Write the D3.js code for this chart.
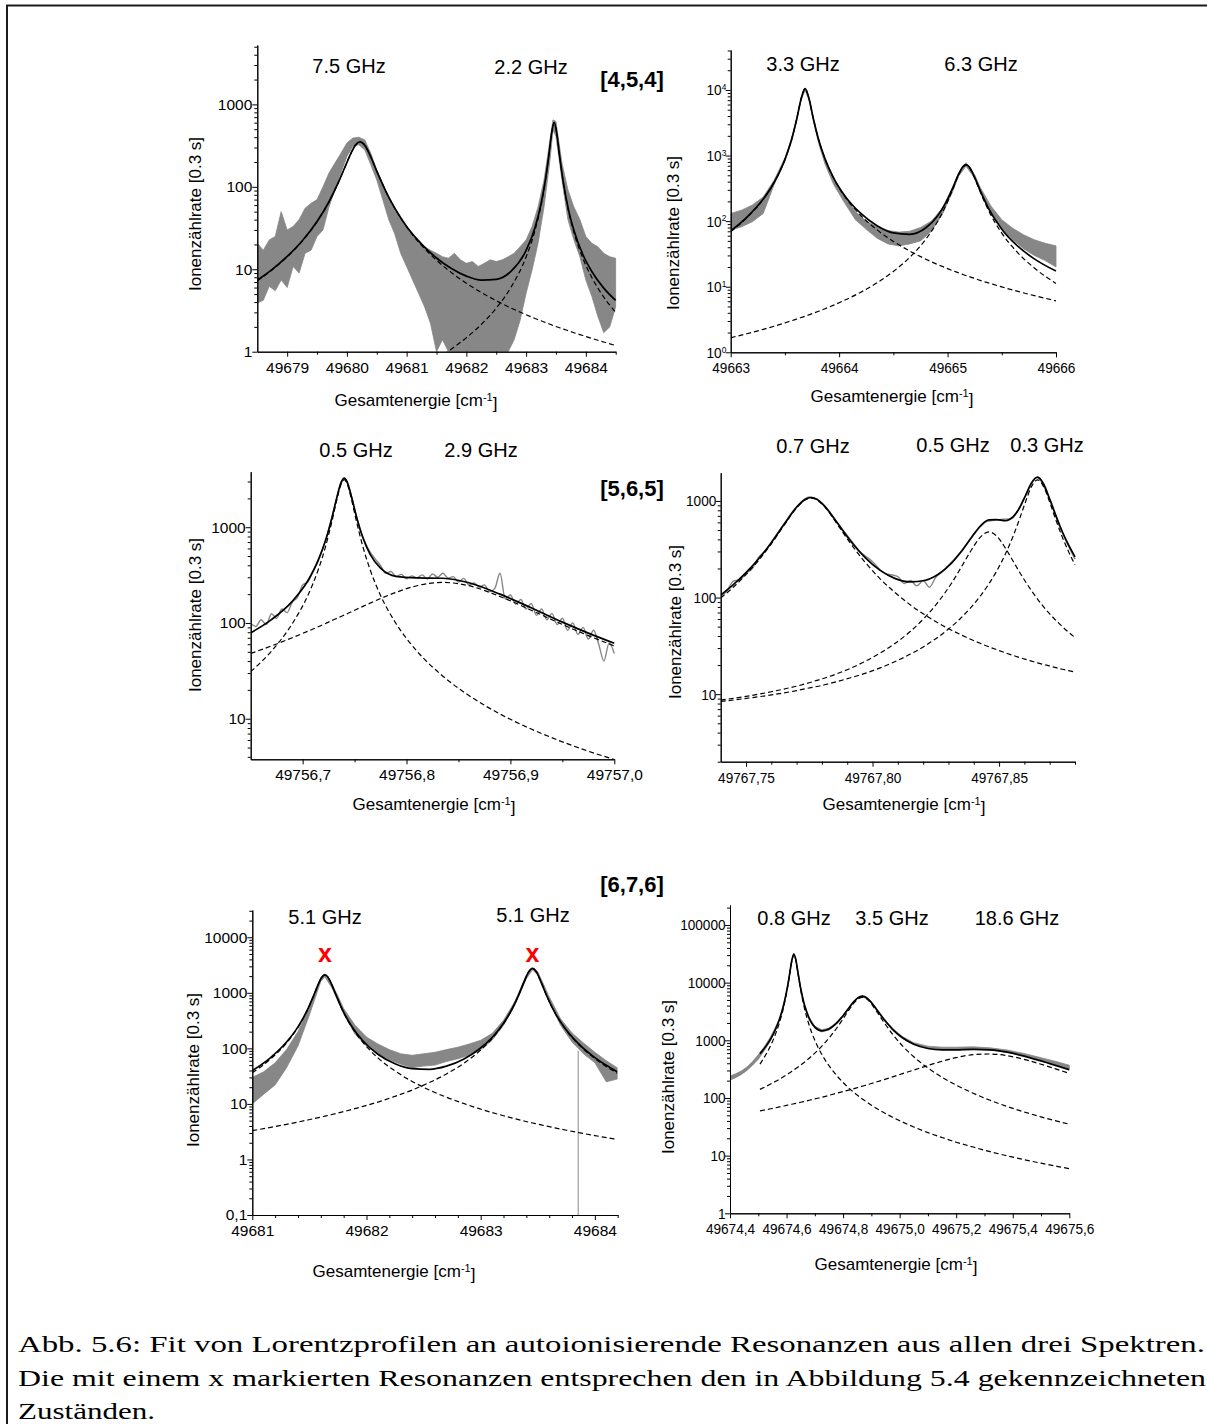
<!DOCTYPE html>
<html>
<head>
<meta charset="utf-8">
<script src="https://cdn.jsdelivr.net/npm/d3@7"></script>
<style>
  body { margin: 0; background: #fff; }
  svg { display: block; }
</style>
</head>
<body>
<svg id="fig" width="1207" height="1424"></svg>
<script>
// ===================== data =====================
// [4,5,4] spectrum, left panel
const p1XRange = [49678.5, 49684.5];
const p1YRange = [1, 5250];
const p1XTicks = [49679, 49680, 49681, 49682, 49683, 49684];
const p1XMinor = [49679.5, 49680.5, 49681.5, 49682.5, 49683.5, 49684.5];
const p1YTicks = [1, 10, 100, 1000];
const p1FitX = [49678.5, 49678.75, 49679, 49679.25, 49679.5, 49679.7, 49679.85, 49679.97, 49680.07, 49680.15, 49680.22, 49680.3, 49680.4, 49680.5, 49680.65, 49680.8, 49681, 49681.25, 49681.5, 49681.75, 49682, 49682.25, 49682.5, 49682.75, 49683, 49683.15, 49683.25, 49683.32, 49683.38, 49683.43, 49683.47, 49683.51, 49683.56, 49683.62, 49683.7, 49683.8, 49683.95, 49684.1, 49684.3, 49684.5];
const p1PeakA = [7.24, 9.84, 14.1, 21.8, 37.7, 65.7, 110, 175, 257, 325, 350, 318, 231, 155, 88.4, 54.9, 32.6, 19.5, 12.9, 9.10, 6.77, 5.23, 4.16, 3.38, 2.81, 2.53, 2.37, 2.26, 2.18, 2.11, 2.06, 2.01, 1.95, 1.88, 1.80, 1.70, 1.57, 1.45, 1.31, 1.19];
const p1PeakB = [0.129, 0.143, 0.160, 0.180, 0.203, 0.225, 0.244, 0.261, 0.277, 0.290, 0.303, 0.318, 0.339, 0.362, 0.402, 0.448, 0.524, 0.65, 0.82, 1.08, 1.48, 2.14, 3.38, 6.10, 14.1, 29.7, 59.5, 115, 238, 462, 600, 462, 238, 115, 54.9, 28.0, 13.6, 7.95, 4.60, 3.00];
const p1Fit = [7.37, 9.98, 14.3, 22.0, 37.9, 65.9, 110, 175, 257, 325, 350, 318, 231, 155, 88.8, 55.3, 33.1, 20.2, 13.7, 10.2, 8.25, 7.37, 7.54, 9.48, 16.9, 32.2, 61.9, 117, 240, 464, 602, 464, 240, 117, 56.7, 29.7, 15.1, 9.40, 5.91, 4.19];
const p1DataX = [49678.5, 49678.6, 49678.7, 49678.8, 49678.9, 49679, 49679.1, 49679.2, 49679.3, 49679.4, 49679.5, 49679.6, 49679.7, 49679.8, 49679.9, 49680, 49680.1, 49680.2, 49680.3, 49680.4, 49680.5, 49680.6, 49680.7, 49680.8, 49680.9, 49681, 49681.1, 49681.2, 49681.3, 49681.4, 49681.5, 49681.6, 49681.7, 49681.8, 49681.9, 49682, 49682.1, 49682.2, 49682.3, 49682.4, 49682.5, 49682.6, 49682.7, 49682.8, 49682.9, 49683, 49683.1, 49683.2, 49683.3, 49683.4, 49683.45, 49683.5, 49683.6, 49683.7, 49683.8, 49683.9, 49684, 49684.1, 49684.2, 49684.3, 49684.4, 49684.5];
const p1DataLo = [3.9, 4.2, 6.2, 5.5, 7.4, 6.0, 10.8, 9.0, 15.6, 17, 25, 30, 57, 92, 147, 233, 310, 324, 280, 185, 121, 70, 40, 27, 15.6, 10.8, 7.4, 5.1, 3.5, 2.2, 1, 1.4, 1, 1, 1, 1, 1, 1, 1, 1, 1, 1, 1, 1.4, 2.4, 5.1, 9.8, 20.7, 57, 211, 490, 410, 121, 40, 22.7, 14.2, 7.4, 4.7, 2.7, 1.7, 2.0, 3.5];
const p1DataHi = [20.7, 17, 22.7, 25, 50, 30, 33, 40, 55, 63, 70, 100, 147, 194, 255, 340, 390, 400, 370, 255, 160, 110, 73, 52, 40, 33, 27, 22.7, 18.8, 17, 15.6, 14.2, 13.6, 15.6, 13, 11.8, 12.4, 10.8, 11.8, 13, 12.4, 13, 14.2, 15.6, 18.8, 22.7, 33, 57, 121, 370, 650, 620, 194, 92, 57, 40, 25, 20.7, 18.8, 15.6, 14.2, 13.6];

// [4,5,4] spectrum, right panel
const p2XRange = [49663, 49666];
const p2YRange = [1, 40700];
const p2XTicks = [49663, 49664, 49665, 49666];
const p2XMinor = [49663.5, 49664.5, 49665.5];
const p2YTicks = [1, 10, 100, 1000, 10000];
const p2FitX = [49663, 49663.15, 49663.3, 49663.4, 49663.5, 49663.56, 49663.61, 49663.65, 49663.686, 49663.72, 49663.76, 49663.81, 49663.87, 49663.95, 49664.05, 49664.2, 49664.35, 49664.5, 49664.65, 49664.8, 49664.9, 49664.98, 49665.05, 49665.1, 49665.14, 49665.17, 49665.2, 49665.25, 49665.3, 49665.38, 49665.5, 49665.65, 49665.8, 49666];
const p2PeakA = [69.0, 113, 215, 385, 867, 1721, 3678, 7415, 10500, 7658, 3806, 1768, 885, 449, 241, 122, 73.6, 49.1, 35.1, 26.3, 22.1, 19.5, 17.5, 16.3, 15.4, 14.8, 14.3, 13.4, 12.5, 11.4, 9.92, 8.47, 7.31, 6.10];
const p2PeakB = [1.67, 1.92, 2.24, 2.50, 2.81, 3.02, 3.22, 3.39, 3.55, 3.72, 3.93, 4.22, 4.62, 5.24, 6.21, 8.26, 11.5, 17.1, 27.9, 53.1, 93.7, 167, 309, 494, 659, 713, 659, 451, 282, 143, 65.5, 32.6, 19.3, 11.2];
const p2Fit = [70.7, 115, 217, 388, 870, 1724, 3681, 7418, 10504, 7662, 3810, 1772, 889, 454, 247, 131, 85.1, 66.2, 63.0, 79.4, 116, 186, 327, 510, 674, 728, 673, 464, 294, 154, 75.4, 41.1, 26.6, 17.3];
const p2DataX = [49663, 49663.1, 49663.2, 49663.3, 49663.4, 49663.5, 49663.56, 49663.61, 49663.65, 49663.686, 49663.72, 49663.76, 49663.81, 49663.87, 49663.95, 49664.05, 49664.15, 49664.25, 49664.35, 49664.45, 49664.55, 49664.65, 49664.75, 49664.85, 49664.95, 49665.05, 49665.1, 49665.17, 49665.25, 49665.3, 49665.4, 49665.5, 49665.6, 49665.7, 49665.8, 49665.9, 49666];
const p2DataLo = [73, 82, 98, 131, 360, 820, 1600, 3450, 7000, 9900, 7100, 3500, 1550, 740, 360, 190, 105, 75, 55, 45, 42, 45, 50, 70, 125, 290, 480, 690, 450, 285, 130, 75, 52, 38, 30, 25, 20];
const p2DataHi = [131, 147, 176, 234, 420, 920, 1780, 3750, 7500, 10400, 7600, 3750, 1720, 850, 430, 235, 140, 100, 82, 72, 68, 70, 80, 100, 155, 340, 540, 780, 510, 330, 170, 105, 78, 62, 52, 46, 42];

// [5,6,5] spectrum, left panel
const p3XRange = [49756.65, 49757.0];
const p3YRange = [3.77, 3800];
const p3XTicks = [49756.7, 49756.8, 49756.9, 49757.0];
const p3XMinor = [49756.75, 49756.85, 49756.95];
const p3YTicks = [10, 100, 1000];
const p3FitX = [49756.65, 49756.67, 49756.69, 49756.705, 49756.715, 49756.722, 49756.728, 49756.733, 49756.737, 49756.74, 49756.743, 49756.747, 49756.752, 49756.758, 49756.765, 49756.775, 49756.79, 49756.81, 49756.835, 49756.86, 49756.89, 49756.92, 49756.95, 49756.975, 49757.0];
const p3PeakA = [31.0, 50.9, 98.2, 194, 359, 626, 1127, 1950, 2817, 3130, 2817, 1950, 1127, 626, 359, 194, 98.2, 50.9, 27.8, 17.5, 11.2, 7.80, 5.74, 4.58, 3.75];
const p3PeakB = [48.0, 57.6, 70.1, 82.0, 91.3, 98.6, 106, 112, 117, 121, 125, 131, 139, 149, 161, 180, 209, 245, 265, 245, 189, 136, 96.5, 73.8, 57.6];
const p3Fit = [79.0, 108.5, 168.3, 276, 450, 725, 1233, 2062, 2934, 3251, 2942, 2081, 1266, 775, 520, 374, 307, 296, 293, 263, 200, 144, 102, 78.4, 61.4];
const p3DataX = [49756.650, 49756.655, 49756.660, 49756.665, 49756.670, 49756.675, 49756.680, 49756.685, 49756.690, 49756.695, 49756.700, 49756.705, 49756.710, 49756.715, 49756.720, 49756.725, 49756.730, 49756.735, 49756.740, 49756.745, 49756.750, 49756.755, 49756.760, 49756.765, 49756.770, 49756.775, 49756.780, 49756.785, 49756.790, 49756.795, 49756.800, 49756.805, 49756.810, 49756.815, 49756.820, 49756.825, 49756.830, 49756.835, 49756.840, 49756.845, 49756.850, 49756.855, 49756.860, 49756.865, 49756.870, 49756.875, 49756.880, 49756.885, 49756.890, 49756.895, 49756.900, 49756.905, 49756.910, 49756.915, 49756.920, 49756.925, 49756.930, 49756.935, 49756.940, 49756.945, 49756.950, 49756.955, 49756.960, 49756.965, 49756.970, 49756.975, 49756.980, 49756.985, 49756.990, 49756.995, 49757.000];
const p3Data = [98, 92, 108, 96, 125, 112, 140, 128, 165, 185, 250, 268, 350, 460, 625, 930, 1500, 2480, 3180, 2520, 1550, 990, 700, 550, 465, 398, 330, 345, 305, 322, 290, 310, 296, 318, 288, 325, 300, 330, 295, 305, 268, 292, 250, 262, 236, 250, 212, 230, 330, 178, 196, 158, 176, 140, 160, 120, 140, 108, 126, 96, 112, 84, 100, 76, 90, 68, 84, 60, 40, 62, 48];

// [5,6,5] spectrum, right panel
const p4XRange = [49767.74, 49767.88];
const p4YRange = [2, 1960];
const p4XTicks = [49767.75, 49767.80, 49767.85];
const p4XMinor = [49767.76, 49767.77, 49767.78, 49767.79, 49767.81, 49767.82, 49767.83, 49767.84, 49767.86, 49767.87, 49767.88];
const p4YTicks = [10, 100, 1000];
const p4FitX = [49767.740, 49767.745, 49767.750, 49767.755, 49767.760, 49767.765, 49767.770, 49767.7735, 49767.7757, 49767.778, 49767.7815, 49767.786, 49767.791, 49767.797, 49767.803, 49767.809, 49767.815, 49767.8205, 49767.826, 49767.831, 49767.835, 49767.839, 49767.8425, 49767.846, 49767.849, 49767.8525, 49767.8555, 49767.858, 49767.8605, 49767.8628, 49767.8652, 49767.8676, 49767.870, 49767.8725, 49767.875, 49767.8775, 49767.880];
const p4PeakA = [98.9, 128, 173, 243, 360, 557, 848, 1030, 1070, 1026, 842, 577, 372, 233, 156, 112, 83.7, 66.6, 54.4, 46.2, 41.1, 36.8, 33.6, 30.9, 28.9, 26.8, 25.2, 24.0, 22.9, 22.0, 21.1, 20.3, 19.6, 18.8, 18.1, 17.5, 16.9];
const p4PeakB = [8.69, 9.06, 9.49, 9.99, 10.6, 11.3, 12.1, 12.8, 13.3, 13.9, 14.8, 16.3, 18.4, 21.8, 26.6, 33.7, 44.8, 61.6, 90.6, 138, 205, 309, 420, 478, 434, 325, 239, 185, 145, 118, 96.5, 80.3, 67.9, 57.9, 50.0, 43.7, 38.6];
const p4PeakC = [8.41, 8.70, 9.03, 9.40, 9.83, 10.3, 10.9, 11.4, 11.7, 12.0, 12.6, 13.5, 14.7, 16.4, 18.7, 21.8, 26.0, 31.4, 39.2, 49.6, 61.8, 79.6, 103, 139, 187, 282, 429, 641, 987, 1407, 1655, 1407, 971, 630, 422, 297, 218];
const p4Fit = [106, 136, 181, 252, 370, 569, 861, 1044, 1085, 1042, 859, 597, 395, 261, 191, 157, 145, 150, 174, 224, 298, 416, 547, 638, 640, 624, 683, 839, 1145, 1537, 1763, 1498, 1048, 697, 480, 348, 264];
const p4DataX = [49767.740, 49767.7425, 49767.745, 49767.7475, 49767.750, 49767.7525, 49767.755, 49767.7575, 49767.760, 49767.765, 49767.770, 49767.775, 49767.780, 49767.785, 49767.790, 49767.795, 49767.800, 49767.8025, 49767.805, 49767.8075, 49767.810, 49767.8125, 49767.815, 49767.8175, 49767.820, 49767.8225, 49767.825, 49767.8275, 49767.830, 49767.835, 49767.840, 49767.845, 49767.850, 49767.855, 49767.860, 49767.865, 49767.870, 49767.875, 49767.880];
const p4Data = [100, 118, 148, 152, 178, 200, 262, 300, 375, 580, 870, 1100, 950, 640, 440, 300, 235, 200, 178, 172, 165, 140, 150, 132, 150, 128, 162, 185, 215, 300, 445, 612, 640, 660, 1080, 1750, 1040, 470, 250];

// [6,7,6] spectrum, left panel
const p5XRange = [49681, 49684.2];
const p5YRange = [0.1, 31000];
const p5XTicks = [49681, 49682, 49683, 49684];
const p5XMinor = [49681.2, 49681.4, 49681.6, 49681.8, 49682.2, 49682.4, 49682.6, 49682.8, 49683.2, 49683.4, 49683.6, 49683.8, 49684.2];
const p5YTicks = [0.1, 1, 10, 100, 1000, 10000];
const p5FitX = [49681, 49681.15, 49681.3, 49681.4, 49681.48, 49681.54, 49681.58, 49681.61, 49681.636, 49681.66, 49681.69, 49681.73, 49681.79, 49681.87, 49681.97, 49682.1, 49682.25, 49682.4, 49682.55, 49682.7, 49682.85, 49682.98, 49683.1, 49683.2, 49683.27, 49683.33, 49683.38, 49683.42, 49683.454, 49683.49, 49683.53, 49683.58, 49683.65, 49683.75, 49683.87, 49684, 49684.195];
const p5PeakA = [36.5, 61.8, 125, 239, 477, 918, 1460, 1919, 2100, 1944, 1492, 940, 487, 243, 127, 67.6, 39.1, 25.4, 17.8, 13.2, 10.2, 8.29, 6.99, 6.13, 5.61, 5.23, 4.93, 4.71, 4.54, 4.36, 4.18, 3.97, 3.70, 3.36, 3.01, 2.69, 2.29];
const p5PeakB = [3.31, 3.75, 4.29, 4.72, 5.11, 5.43, 5.67, 5.85, 6.02, 6.18, 6.39, 6.69, 7.18, 7.92, 9.03, 10.8, 13.7, 17.8, 24.2, 34.6, 53.6, 86.0, 150, 278, 485, 882, 1570, 2379, 2760, 2341, 1534, 863, 437, 210, 111, 65.3, 35.8];
const p5Fit = [39.8, 65.6, 130, 244, 482, 923, 1466, 1925, 2106, 1950, 1498, 946, 494, 251, 136, 78.4, 52.8, 43.2, 42.0, 47.8, 63.8, 94.3, 157, 284, 491, 888, 1575, 2384, 2765, 2345, 1538, 867, 441, 214, 114, 68.0, 38.1];
const p5DataX = [49681, 49681.1, 49681.2, 49681.3, 49681.4, 49681.5, 49681.55, 49681.6, 49681.636, 49681.7, 49681.75, 49681.8, 49681.9, 49682, 49682.1, 49682.2, 49682.3, 49682.4, 49682.5, 49682.6, 49682.7, 49682.8, 49682.9, 49683, 49683.1, 49683.2, 49683.3, 49683.4, 49683.454, 49683.5, 49683.6, 49683.7, 49683.8, 49683.9, 49684, 49684.1, 49684.195];
const p5DataLo = [10, 15, 22, 45, 110, 400, 800, 1600, 1950, 1200, 720, 420, 180, 110, 80, 62, 52, 45, 48, 50, 58, 65, 75, 95, 140, 260, 600, 1800, 2600, 2100, 700, 260, 130, 80, 55, 25, 28];
const p5DataHi = [30, 38, 55, 95, 200, 560, 1000, 1900, 2100, 1400, 880, 520, 260, 160, 120, 95, 80, 75, 80, 85, 95, 105, 120, 140, 185, 320, 700, 2100, 2800, 2400, 850, 340, 190, 125, 85, 60, 45];
const p5Dropout = [49683.854, 90];          // single channel falling to the axis
const p5MarkedX = [49681.636, 49683.454];   // resonances marked with x
const p5MarkLevel = 3600;

// [6,7,6] spectrum, right panel
const p6XRange = [49674.4, 49675.6];
const p6YRange = [1, 222000];
const p6XTicks = [49674.4, 49674.6, 49674.8, 49675.0, 49675.2, 49675.4, 49675.6];
const p6XMinor = [49674.5, 49674.7, 49674.9, 49675.1, 49675.3, 49675.5];
const p6YTicks = [1, 10, 100, 1000, 10000, 100000];
const p6FitX = [49674.506, 49674.53, 49674.555, 49674.575, 49674.59, 49674.603, 49674.612, 49674.619, 49674.626, 49674.633, 49674.64, 49674.65, 49674.662, 49674.68, 49674.7, 49674.725, 49674.75, 49674.775, 49674.8, 49674.82, 49674.838, 49674.852, 49674.868, 49674.884, 49674.9, 49674.92, 49674.945, 49674.975, 49675.01, 49675.05, 49675.1, 49675.15, 49675.2, 49675.26, 49675.32, 49675.38, 49675.44, 49675.5, 49675.56, 49675.6];
const p6PeakA = [387, 601, 1082, 2030, 3822, 7943, 14940, 24430, 31000, 24430, 14940, 7452, 3822, 1824, 998, 566, 363, 252, 186, 149, 125, 110, 96.2, 84.7, 75.1, 65.2, 55.4, 46.3, 38.3, 31.4, 25.1, 20.6, 17.1, 14.1, 11.7, 9.94, 8.52, 7.40, 6.47, 5.95];
const p6PeakB = [141, 161, 187, 212, 235, 257, 275, 290, 306, 323, 342, 372, 413, 489, 599, 794, 1093, 1571, 2360, 3319, 4403, 5180, 5570, 5180, 4281, 3101, 2030, 1275, 803, 518, 331, 228, 167, 121, 91.1, 71.3, 57.3, 47.0, 39.3, 35.1];
const p6PeakC = [59.6, 62.9, 66.7, 69.9, 72.5, 74.9, 76.5, 77.9, 79.3, 80.7, 82.2, 84.3, 87.0, 91.3, 96.4, 103, 111, 120, 129, 137, 145, 152, 160, 169, 178, 191, 208, 232, 264, 305, 366, 434, 502, 563, 579, 541, 467, 385, 310, 267];
const p6Fit = [588, 825, 1336, 2312, 4129, 8275, 15291, 24797, 31385, 24834, 15364, 7908, 4322, 2404, 1693, 1463, 1567, 1943, 2674, 3606, 4673, 5442, 5826, 5434, 4534, 3357, 2294, 1553, 1105, 855, 722, 683, 685, 698, 682, 622, 533, 439, 356, 309];
const p6DataX = [49674.4, 49674.42, 49674.44, 49674.46, 49674.48, 49674.5, 49674.52, 49674.54, 49674.56, 49674.575, 49674.59, 49674.603, 49674.612, 49674.619, 49674.626, 49674.633, 49674.64, 49674.65, 49674.662, 49674.68, 49674.7, 49674.725, 49674.75, 49674.775, 49674.8, 49674.82, 49674.838, 49674.852, 49674.868, 49674.884, 49674.9, 49674.92, 49674.945, 49674.975, 49675.01, 49675.05, 49675.1, 49675.15, 49675.2, 49675.26, 49675.32, 49675.38, 49675.44, 49675.5, 49675.56, 49675.6];
const p6DataLo = [205, 225, 255, 300, 370, 470, 650, 920, 1450, 2250, 4000, 8000, 14800, 24000, 30500, 24300, 14900, 7800, 4200, 2300, 1620, 1400, 1500, 1880, 2600, 3500, 4550, 5300, 5650, 5250, 4400, 3250, 2220, 1500, 1080, 850, 720, 690, 690, 700, 680, 620, 540, 450, 370, 320];
const p6DataHi = [240, 262, 295, 345, 430, 560, 760, 1080, 1650, 2400, 4250, 8500, 15600, 25200, 31800, 25200, 15600, 8200, 4450, 2500, 1760, 1520, 1630, 2010, 2750, 3700, 4800, 5600, 5950, 5600, 4650, 3450, 2380, 1620, 1160, 910, 790, 760, 760, 770, 740, 680, 590, 500, 420, 370];

// text
const widthLabels = ['7.5 GHz', '2.2 GHz', '3.3 GHz', '6.3 GHz', '0.5 GHz', '2.9 GHz', '0.7 GHz', '0.5 GHz', '0.3 GHz', '5.1 GHz', '5.1 GHz', '0.8 GHz', '3.5 GHz', '18.6 GHz'];
const groupLabels = ['[4,5,4]', '[5,6,5]', '[6,7,6]'];
const yTitle = 'Ionenzählrate [0.3 s]';
const xTitle = 'Gesamtenergie [cm';
const xTitleSup = '-1';
const captionLines = [
  'Abb. 5.6: Fit von Lorentzprofilen an autoionisierende Resonanzen aus allen drei Spektren.',
  'Die mit einem x markierten Resonanzen entsprechen den in Abbildung 5.4 gekennzeichneten',
  'Zuständen.'
];

// ===================== layout =====================
const SANS = '"Liberation Sans", Arial, Helvetica, sans-serif';
const SERIF = '"Liberation Serif", "Times New Roman", serif';
const GRAY = '#878787';
const TICK_FONT = 15.5;

const boxes = [
  { left: 257.3, right: 615.7, top: 45,    bottom: 351.7 },
  { left: 730.7, right: 1056,  top: 50,    bottom: 352.3 },
  { left: 250.7, right: 614.3, top: 471.7, bottom: 759.3 },
  { left: 720.7, right: 1075,  top: 472.7, bottom: 761.7 },
  { left: 252.3, right: 617.7, top: 910,   bottom: 1215 },
  { left: 730,   right: 1069.3, top: 905,  bottom: 1213.3 }
];
const yTitlePos = [[195, 214], [673, 233], [195, 615], [675, 622], [193, 1070], [668, 1077]];
const xTitlePos = [[416, 406], [892, 402], [434, 810], [904, 810], [394, 1277], [896, 1270]];
const widthLabelPos = [[349, 73], [531, 74], [803, 71], [981, 71], [356, 457], [481, 457], [813, 453], [953, 452], [1047, 452], [325, 924], [533, 922], [794, 925], [892, 925], [1017, 925]];
const groupLabelPos = [[632, 87], [632, 496], [632, 892]];
const captionY = [1352, 1386, 1419];
const captionLen = [1187, 1188, 137];

const comma = digits => d => d.toFixed(digits).replace('.', ',');

const panels = [
  { xr: p1XRange, yr: p1YRange, xt: p1XTicks, xm: p1XMinor, yt: p1YTicks, xf: d3.format('d'), yf: d3.format('d'),
    fitX: p1FitX, fit: p1Fit, comps: [p1PeakA, p1PeakB],
    band: { x: p1DataX, lo: p1DataLo, hi: p1DataHi } },
  { xr: p2XRange, yr: p2YRange, xt: p2XTicks, xm: p2XMinor, yt: p2YTicks, xf: d3.format('d'), yf: 'pow', narrow: true,
    fitX: p2FitX, fit: p2Fit, comps: [p2PeakA, p2PeakB],
    band: { x: p2DataX, lo: p2DataLo, hi: p2DataHi } },
  { xr: p3XRange, yr: p3YRange, xt: p3XTicks, xm: p3XMinor, yt: p3YTicks, xf: comma(1), yf: d3.format('d'),
    fitX: p3FitX, fit: p3Fit, comps: [p3PeakA, p3PeakB],
    trace: { x: p3DataX, y: p3Data } },
  { xr: p4XRange, yr: p4YRange, xt: p4XTicks, xm: p4XMinor, yt: p4YTicks, xf: comma(2), yf: d3.format('d'), narrow: true,
    fitX: p4FitX, fit: p4Fit, comps: [p4PeakA, p4PeakB, p4PeakC],
    trace: { x: p4DataX, y: p4Data } },
  { xr: p5XRange, yr: p5YRange, xt: p5XTicks, xm: p5XMinor, yt: p5YTicks, xf: d3.format('d'), yf: d => d < 1 ? '0,1' : String(d),
    fitX: p5FitX, fit: p5Fit, comps: [p5PeakA, p5PeakB],
    band: { x: p5DataX, lo: p5DataLo, hi: p5DataHi }, dropout: p5Dropout, marks: p5MarkedX },
  { xr: p6XRange, yr: p6YRange, xt: p6XTicks, xm: p6XMinor, yt: p6YTicks, xf: comma(1), yf: d3.format('d'), narrow: true,
    fitX: p6FitX, fit: p6Fit, comps: [p6PeakA, p6PeakB, p6PeakC],
    band: { x: p6DataX, lo: p6DataLo, hi: p6DataHi } }
];

// ===================== drawing =====================
const svg = d3.select('#fig');
const defs = svg.append('defs');

// page frame (top and left edge of the box)
svg.append('path').attr('d', 'M7,1424V5.5H1207')
  .attr('fill', 'none').attr('stroke', '#1c1c1c').attr('stroke-width', 2);

function minorLogTicks([lo, hi]) {
  const out = [];
  for (let e = Math.floor(Math.log10(lo)); e <= Math.ceil(Math.log10(hi)); e++) {
    for (let k = 2; k <= 9; k++) {
      const v = k * Math.pow(10, e);
      if (v >= lo * 0.999 && v <= hi * 1.001) out.push(v);
    }
  }
  return out;
}

function styleAxis(g) {
  g.select('.domain').attr('stroke', '#000').attr('stroke-width', 1);
  g.selectAll('.tick line').attr('stroke', '#000').attr('stroke-width', 1);
  g.selectAll('.tick text').attr('fill', '#000').attr('font-family', SANS).attr('font-size', TICK_FONT);
}

panels.forEach((p, i) => {
  const b = boxes[i];
  const x = d3.scaleLinear().domain(p.xr).range([b.left, b.right]);
  const y = d3.scaleLog().domain(p.yr).range([b.bottom, b.top]);
  const g = svg.append('g');

  const clipId = 'plot-clip-' + i;
  defs.append('clipPath').attr('id', clipId).append('rect')
    .attr('x', b.left).attr('y', b.top - 2)
    .attr('width', b.right - b.left + 1).attr('height', b.bottom - b.top + 2);
  const plot = g.append('g').attr('clip-path', `url(#${clipId})`);

  // measured ion signal
  if (p.band) {
    const rows = p.band.x.map((v, j) => [v, p.band.lo[j], p.band.hi[j]]);
    plot.append('path').datum(rows)
      .attr('d', d3.area().x(d => x(d[0])).y0(d => y(d[1])).y1(d => y(d[2])))
      .attr('fill', GRAY).attr('stroke', GRAY).attr('stroke-width', 0.8);
  }
  if (p.trace) {
    const rows = p.trace.x.map((v, j) => [v, p.trace.y[j]]);
    plot.append('path').datum(rows)
      .attr('d', d3.line().x(d => x(d[0])).y(d => y(d[1])).curve(d3.curveMonotoneX))
      .attr('fill', 'none').attr('stroke', GRAY).attr('stroke-width', 1.4);
  }
  if (p.dropout) {
    plot.append('line')
      .attr('x1', x(p.dropout[0])).attr('x2', x(p.dropout[0]))
      .attr('y1', y(p.dropout[1])).attr('y2', y(p.yr[0]))
      .attr('stroke', GRAY).attr('stroke-width', 1);
  }

  const line = d3.line().x(d => x(d[0])).y(d => y(d[1])).curve(d3.curveMonotoneX);

  // single Lorentz profiles
  p.comps.forEach(c => {
    plot.append('path').datum(p.fitX.map((v, j) => [v, c[j]]))
      .attr('d', line).attr('fill', 'none')
      .attr('stroke', '#000').attr('stroke-width', 1.2).attr('stroke-dasharray', '5,3');
  });
  // total fit
  plot.append('path').datum(p.fitX.map((v, j) => [v, p.fit[j]]))
    .attr('d', line).attr('fill', 'none')
    .attr('stroke', '#000').attr('stroke-width', 1.7);

  // axes
  const gx = g.append('g').attr('transform', `translate(0,${b.bottom})`);
  gx.append('g').call(d3.axisBottom(x).tickValues(p.xm).tickSize(3).tickSizeOuter(0).tickFormat('')).call(styleAxis);
  const gxMajor = gx.append('g').call(d3.axisBottom(x).tickValues(p.xt).tickSize(5).tickPadding(5).tickSizeOuter(0).tickFormat(p.xf)).call(styleAxis);

  const gy = g.append('g').attr('transform', `translate(${b.left},0)`);
  gy.append('g').call(d3.axisLeft(y).tickValues(minorLogTicks(p.yr)).tickSize(3).tickSizeOuter(0).tickFormat('')).call(styleAxis);
  const gyMajor = gy.append('g').call(d3.axisLeft(y).tickValues(p.yt).tickSize(5).tickPadding(0).tickSizeOuter(0)
    .tickFormat(p.yf === 'pow' ? () => '' : p.yf)).call(styleAxis);

  if (p.yf === 'pow') {
    gyMajor.selectAll('.tick text').each(function (d) {
      const t = d3.select(this);
      t.append('tspan').text('10');
      t.append('tspan').attr('dy', '-0.55em').attr('font-size', 9.5).text(Math.round(Math.log10(d)));
    });
  }
  if (p.narrow) {
    gxMajor.selectAll('.tick text').attr('transform', 'scale(0.88,1)');
    gyMajor.selectAll('.tick text').attr('transform', 'scale(0.88,1)');
  }

  // axis titles
  g.append('text')
    .attr('transform', `translate(${yTitlePos[i][0]},${yTitlePos[i][1]}) rotate(-90)`)
    .attr('text-anchor', 'middle').attr('dy', '0.35em')
    .attr('font-family', SANS).attr('font-size', 17).text(yTitle);
  const xt = g.append('text')
    .attr('x', xTitlePos[i][0]).attr('y', xTitlePos[i][1])
    .attr('text-anchor', 'middle').attr('font-family', SANS).attr('font-size', 17);
  xt.append('tspan').text(xTitle);
  xt.append('tspan').attr('dy', '-0.45em').attr('font-size', 11).text(xTitleSup);
  xt.append('tspan').attr('dy', '0.45em').text(']');

  // resonance markers
  if (p.marks) {
    p.marks.forEach(m => {
      g.append('text').attr('x', x(m)).attr('y', y(p5MarkLevel))
        .attr('text-anchor', 'middle').attr('font-family', SANS)
        .attr('font-weight', 'bold').attr('font-size', 25).attr('fill', '#ff0000').text('x');
    });
  }
});

// linewidth annotations
widthLabels.forEach((s, i) => {
  svg.append('text').attr('x', widthLabelPos[i][0]).attr('y', widthLabelPos[i][1])
    .attr('text-anchor', 'middle').attr('font-family', SANS).attr('font-size', 20).text(s);
});
groupLabels.forEach((s, i) => {
  svg.append('text').attr('x', groupLabelPos[i][0]).attr('y', groupLabelPos[i][1])
    .attr('text-anchor', 'middle').attr('font-family', SANS).attr('font-weight', 'bold')
    .attr('font-size', 22).text(s);
});

// figure caption
captionLines.forEach((s, i) => {
  svg.append('text').attr('x', 18).attr('y', captionY[i])
    .attr('font-family', SERIF).attr('font-size', 24)
    .attr('textLength', captionLen[i]).attr('lengthAdjust', 'spacingAndGlyphs')
    .text(s);
});
</script>
</body>
</html>
